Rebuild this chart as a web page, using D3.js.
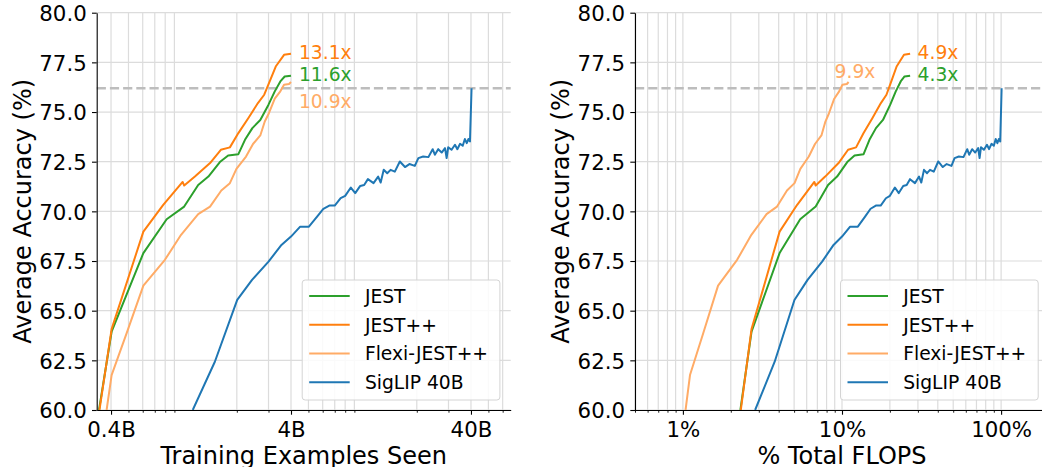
<!DOCTYPE html>
<html>
<head>
<meta charset="utf-8">
<script src="https://cdn.jsdelivr.net/npm/d3@7"></script>
<style>
  html, body { margin: 0; padding: 0; background: #fff; }
  svg { display: block; font-family: "DejaVu Sans", sans-serif; }
</style>
</head>
<body>
<svg id="chart" width="1042" height="467"></svg>
<script>
// ---- data -------------------------------------------------------------
// Each series: [training examples seen (billions), average accuracy (%)]
const seriesNames  = ["JEST", "JEST++", "Flexi-JEST++", "SigLIP 40B"];
const seriesColors = ["#2ca02c", "#ff7f0e", "#ffab66", "#1f77b4"];

const jest = [
  [0.343, 60.0], [0.403, 63.94], [0.605, 67.9], [0.815, 69.6], [1.02, 70.24],
  [1.22, 71.33], [1.39, 71.75], [1.61, 72.48], [1.79, 72.81], [2.04, 72.88],
  [2.22, 73.6], [2.44, 74.19], [2.70, 74.6], [3.0, 75.37], [3.25, 76.04],
  [3.49, 76.54], [3.69, 76.79], [4.0, 76.83]
];
const jestPP = [
  [0.345, 60.0], [0.403, 64.07], [0.605, 68.98], [0.78, 70.33], [1.0, 71.48],
  [1.02, 71.3], [1.17, 71.75], [1.42, 72.43], [1.63, 73.1], [1.83, 73.22],
  [2.04, 73.94], [2.32, 74.7], [2.62, 75.45], [2.84, 75.87], [3.07, 76.62],
  [3.29, 77.29], [3.66, 77.88], [4.0, 77.93]
];
const flexiJestPP = [
  [0.378, 60.0], [0.403, 61.76], [0.488, 63.86], [0.605, 66.26], [0.797, 67.56],
  [0.98, 68.82], [1.22, 69.86], [1.42, 70.24], [1.64, 71.05], [1.83, 71.42],
  [1.99, 72.14], [2.25, 72.76], [2.46, 73.39], [2.70, 73.82], [2.86, 74.52],
  [3.0, 74.9], [3.25, 75.67], [3.49, 76.04], [3.66, 76.37], [3.9, 76.41],
  [4.0, 76.51]
];
const siglip = [
  [1.138, 60.0], [1.51, 62.43], [2.01, 65.54], [2.43, 66.55], [3.0, 67.47],
  [3.54, 68.31], [4.0, 68.73], [4.5, 69.23], [5.03, 69.23], [5.6, 69.75],
  [6.05, 70.13], [6.53, 70.29], [7.0, 70.29], [7.55, 70.66], [8.0, 70.78],
  [8.6, 71.2], [9.1, 70.92], [9.7, 71.28], [10.2, 71.33], [10.7, 71.62],
  [11.5, 71.42], [12.2, 71.75], [12.6, 71.45], [13.1, 72.09], [13.7, 71.92],
  [14.3, 72.09], [15.1, 72.0], [16.1, 72.51], [17.2, 72.23], [18.2, 72.38],
  [19.5, 72.29], [20.4, 72.68], [21.7, 72.76], [23.2, 72.73], [24.5, 73.13],
  [25.2, 72.85], [26.3, 73.13], [27.5, 72.96], [28.7, 73.18], [29.3, 72.68],
  [29.9, 73.23], [31.2, 73.1], [32.6, 73.35], [33.6, 73.13], [34.8, 73.4],
  [36.0, 73.3], [37.0, 73.64], [37.9, 73.43], [38.7, 73.64], [39.5, 73.52],
  [40.3, 76.2]
];
const seriesData = [jest, jestPP, flexiJestPP, siglip];

// compute cost per example relative to the SigLIP baseline
const flopsPerExample = [2.68, 2.68, 1.10, 1.0];
const baselineExamples = 40;          // SigLIP 40B run = 100% of FLOPS
const baselineAccuracy = 76.2;        // final SigLIP accuracy (dashed line)

const speedupExamples = ["11.6x", "13.1x", "10.9x"];
const speedupFlops    = ["4.3x", "4.9x", "9.9x"];

const yTicks = [60, 62.5, 65, 67.5, 70, 72.5, 75, 77.5, 80];
const xTicksExamples = [0.4, 4, 40];
const xTickLabelsExamples = ["0.4B", "4B", "40B"];
const xTicksFlops = [1, 10, 100];
const xTickLabelsFlops = ["1%", "10%", "100%"];

// ---- layout -----------------------------------------------------------
const svg = d3.select("#chart");
const plotTop = 12.7, plotBottom = 410;
const y = d3.scaleLinear().domain([60, 80]).range([plotBottom, plotTop]);

const panels = [
  {
    left: 96.7, right: 510.7, domain: [0.333, 66.5],
    ticks: xTicksExamples, tickLabels: xTickLabelsExamples,
    xLabel: "Training Examples Seen",
    toX: (ex, i) => ex,
    speedups: speedupExamples,
    labelOffsets: [[8, 5.5], [8, 5.5], [8, 25.5]]
  },
  {
    left: 635, right: 1049, domain: [0.5, 200],
    ticks: xTicksFlops, tickLabels: xTickLabelsFlops,
    xLabel: "% Total FLOPS",
    toX: (ex, i) => ex / baselineExamples * 100 * flopsPerExample[i],
    speedups: speedupFlops,
    labelOffsets: [[7.5, 5.5], [7.5, 5.5], [-14, -4]]
  }
];

const gridColor = "#dcdcdc";

panels.forEach((p, pi) => {
  const x = d3.scaleLog().domain(p.domain).range([p.left, p.right]);
  const g = svg.append("g");

  const isPow10 = v => Math.abs(Math.log10(v) - Math.round(Math.log10(v))) < 1e-9;
  const minor = x.ticks().filter(v => !isPow10(v) && !p.ticks.some(t => Math.abs(t - v) < 1e-9));
  const gridX = minor.concat(p.ticks);

  // grid
  const grid = g.append("g");
  grid.selectAll("line.gx").data(gridX).join("line")
    .attr("x1", d => x(d)).attr("x2", d => x(d))
    .attr("y1", plotTop).attr("y2", plotBottom)
    .attr("stroke", gridColor).attr("stroke-width", 1.2);
  grid.selectAll("line.gy").data(yTicks).join("line")
    .attr("x1", p.left).attr("x2", p.right)
    .attr("y1", d => y(d)).attr("y2", d => y(d))
    .attr("stroke", gridColor).attr("stroke-width", 1.2);

  // reference accuracy of the full SigLIP run
  g.append("line")
    .attr("x1", p.left).attr("x2", p.right)
    .attr("y1", y(baselineAccuracy)).attr("y2", y(baselineAccuracy))
    .attr("stroke", "#bdbdbd").attr("stroke-width", 2.5)
    .attr("stroke-dasharray", "9.2,4");

  // clip
  const clipId = "clip" + pi;
  svg.append("clipPath").attr("id", clipId).append("rect")
    .attr("x", p.left).attr("y", plotTop - 2)
    .attr("width", p.right - p.left).attr("height", plotBottom - plotTop + 2);

  const line = d3.line().x(d => x(d[0])).y(d => y(d[1]));
  const lines = g.append("g").attr("clip-path", `url(#${clipId})`);
  [3, 2, 0, 1].forEach(i => {
    const pts = seriesData[i].map(d => [p.toX(d[0], i), d[1]]);
    lines.append("path").datum(pts)
      .attr("d", line)
      .attr("fill", "none")
      .attr("stroke", seriesColors[i])
      .attr("stroke-width", 2)
      .attr("stroke-linejoin", "round");
  });

  // speed-up labels at the end of each JEST curve
  [0, 1, 2].forEach(i => {
    const last = seriesData[i][seriesData[i].length - 1];
    const px = x(p.toX(last[0], i)), py = y(last[1]);
    g.append("text")
      .attr("x", px + p.labelOffsets[i][0])
      .attr("y", py + p.labelOffsets[i][1])
      .attr("fill", seriesColors[i])
      .attr("font-size", 18.7)
      .text(p.speedups[i]);
  });

  // axes
  const yAxis = d3.axisLeft(y).tickValues(yTicks).tickFormat(d3.format(".1f"))
    .tickSize(4.7).tickSizeOuter(0).tickPadding(5.3);
  const ya = g.append("g").attr("transform", `translate(${p.left},0)`).call(yAxis);
  ya.selectAll("text").attr("font-size", 21.3).attr("dy", "0.36em").attr("fill", "#000")
    .attr("font-family", "DejaVu Sans");
  ya.select(".domain").attr("stroke", "#000").attr("stroke-width", 1.1);
  ya.selectAll(".tick line").attr("stroke", "#000").attr("stroke-width", 1.1);

  const xMinorAxis = d3.axisBottom(x).tickValues(minor).tickFormat("")
    .tickSize(2.7).tickSizeOuter(0);
  const xm = g.append("g").attr("transform", `translate(0,${plotBottom})`).call(xMinorAxis);
  xm.select(".domain").remove();
  xm.selectAll(".tick line").attr("stroke", "#000").attr("stroke-width", 0.9);

  const xAxis = d3.axisBottom(x).tickValues(p.ticks)
    .tickFormat((d, k) => p.tickLabels[k]).tickSize(4.7).tickSizeOuter(0);
  const xa = g.append("g").attr("transform", `translate(0,${plotBottom})`).call(xAxis);
  xa.selectAll("text").attr("font-size", 21.3).attr("y", 26.7).attr("dy", null)
    .attr("fill", "#000").attr("font-family", "DejaVu Sans");
  xa.select(".domain").attr("stroke", "#000").attr("stroke-width", 1.1);
  xa.selectAll(".tick line").attr("stroke", "#000").attr("stroke-width", 1.1);

  // axis titles
  g.append("text")
    .attr("x", (p.left + p.right) / 2).attr("y", 464.2)
    .attr("text-anchor", "middle").attr("font-size", 24)
    .text(p.xLabel);
  g.append("text")
    .attr("transform", `translate(${p.left - 66.2},${(plotTop + plotBottom) / 2}) rotate(-90)`)
    .attr("text-anchor", "middle").attr("font-size", 24)
    .text("Average Accuracy (%)");

  // legend
  const lx = p.right - 208.5, ly = 280, lw = 197.7, lh = 120;
  const lg = g.append("g");
  lg.append("rect")
    .attr("x", lx).attr("y", ly).attr("width", lw).attr("height", lh)
    .attr("rx", 3).attr("ry", 3)
    .attr("fill", "#fff").attr("fill-opacity", 0.85)
    .attr("stroke", "#d4d4d4").attr("stroke-width", 1);
  seriesNames.forEach((name, i) => {
    const cy = 296 + i * 28.75;
    lg.append("line")
      .attr("x1", lx + 7).attr("x2", lx + 47.5)
      .attr("y1", cy).attr("y2", cy)
      .attr("stroke", seriesColors[i]).attr("stroke-width", 2);
    lg.append("text")
      .attr("x", lx + 62.7).attr("y", cy + 6.8)
      .attr("font-size", 18.7).attr("fill", "#000")
      .text(name);
  });
});
</script>
</body>
</html>
